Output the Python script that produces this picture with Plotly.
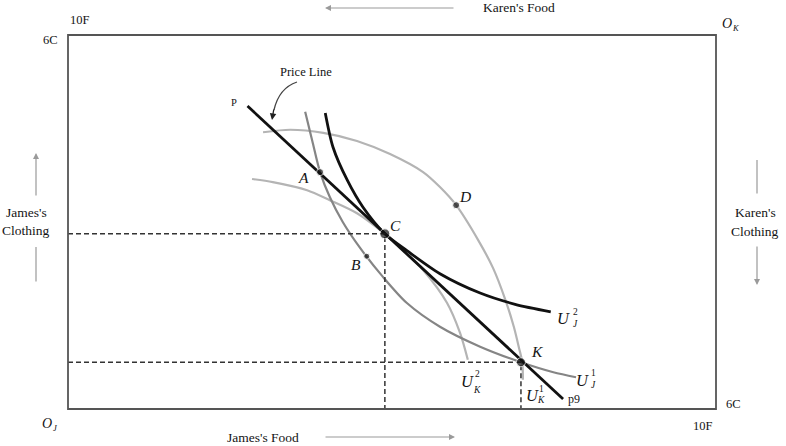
import plotly.graph_objects as go

# ---------------- data (box units: 10 food x 6 clothing) ----------------
price_x = [2.77, 7.64]
price_y = [4.86, 0.16]

uj2_x = [3.97, 4.09, 4.31, 4.55, 4.89, 5.23, 5.74, 6.36, 6.90, 7.45]
uj2_y = [4.75, 4.20, 3.67, 3.24, 2.81, 2.54, 2.17, 1.86, 1.68, 1.56]

uj1_x = [3.66, 3.77, 3.89, 4.04, 4.24, 4.51, 4.86, 5.23, 5.74, 6.36, 6.99, 7.49, 7.84]
uj1_y = [4.77, 4.30, 3.80, 3.40, 3.00, 2.58, 2.12, 1.70, 1.32, 1.00, 0.75, 0.59, 0.51]

uk2_x = [2.84, 3.16, 3.69, 4.04, 4.46, 4.89, 5.12, 5.48, 5.85, 6.05, 6.17]
uk2_y = [3.69, 3.64, 3.51, 3.35, 3.14, 2.81, 2.60, 2.23, 1.70, 1.22, 0.79]

uk1_x = [3.01, 3.43, 3.94, 4.46, 4.97, 5.48, 5.74, 5.99, 6.33, 6.56, 6.74, 6.88, 6.96, 7.01, 7.02]
uk1_y = [4.44, 4.48, 4.43, 4.30, 4.09, 3.80, 3.56, 3.27, 2.71, 2.26, 1.78, 1.32, 0.98, 0.75, 0.47]

point_names = ["A", "B", "C", "D", "K"]
point_x = [3.89, 4.61, 4.89, 5.99, 6.99]
point_y = [3.80, 2.45, 2.81, 3.27, 0.75]

X_MAX, Y_MAX = 10, 6

# ---------------- layout geometry / styles ----------------
W, H = 786, 446
ML, MR, MT, MB = 68, 70, 35, 37
PW, PH = W - ML - MR, H - MT - MB
FONT = "Liberation Serif"
TXT = "#141414"
BLACK = "#111111"
MID = "#858585"
LIGHT = "#b4b4b4"


def paper(px, py):
    return (px - ML) / PW, (H - MB - py) / PH


fig = go.Figure()


def curve(xs, ys, color, width):
    fig.add_trace(go.Scatter(x=xs, y=ys, mode="lines",
                             line=dict(color=color, width=width, shape="spline", smoothing=0.8),
                             hoverinfo="skip", showlegend=False))


curve(uk1_x, uk1_y, LIGHT, 2.2)
curve(uk2_x, uk2_y, LIGHT, 2.2)
curve(uj1_x, uj1_y, MID, 2.2)
curve(uj2_x, uj2_y, BLACK, 2.8)
fig.add_trace(go.Scatter(x=price_x, y=price_y, mode="lines",
                         line=dict(color=BLACK, width=2.8),
                         hoverinfo="skip", showlegend=False))

# dashed projection lines from C and K
for name in ("C", "K"):
    i = point_names.index(name)
    fig.add_trace(go.Scatter(x=[0, point_x[i], point_x[i]], y=[point_y[i], point_y[i], 0],
                             mode="lines", line=dict(color="#333333", width=1.5, dash="5px,3px"),
                             hoverinfo="skip", showlegend=False))

sizes = {"A": 7, "B": 6, "C": 10, "D": 7, "K": 9}
fig.add_trace(go.Scatter(x=point_x, y=point_y, mode="markers",
                         marker=dict(color=BLACK, size=[sizes[n] for n in point_names]),
                         hoverinfo="skip", showlegend=False))

ann = []
shifts = {"A": (-17, -5), "B": (-11, -8), "C": (11, 8), "D": (9, 9), "K": (16, 11)}
for n, x, y in zip(point_names, point_x, point_y):
    dx, dy = shifts[n]
    ann.append(dict(text=f"<i>{n}</i>", x=x, y=y, xref="x", yref="y", xshift=dx, yshift=dy,
                    showarrow=False, font=dict(family=FONT, size=15.5, color=TXT)))


def text(s, px, py, size=13.5, color=TXT):
    x, y = paper(px, py)
    ann.append(dict(text=s, x=x, y=y, xref="paper", yref="paper", showarrow=False,
                    xanchor="center", yanchor="middle", font=dict(family=FONT, size=size, color=color)))


def arrow(hx, hy, tx, ty, head=2, color="#9a9a9a", width=1.2):
    x, y = paper(hx, hy)
    ann.append(dict(text="", x=x, y=y, xref="paper", yref="paper", showarrow=True,
                    ax=tx - hx, ay=ty - hy, arrowhead=head, arrowsize=1, arrowwidth=width,
                    arrowcolor=color))


def ulabel(ux, uy, sup, sub, ix, ysup, ysub):
    text("<i>U</i>", ux, uy, size=16.5)
    text(sup, ix, ysup, size=9.5)
    text(f"<i>{sub}</i>", ix, ysub, size=9.5)


# corner / axis texts
text("10F", 80, 20, 12.5)
text("6C", 50, 40, 12.5)
text("<i>O</i>", 727, 23, 14)
text("<i>K</i>", 736, 28, 8.5)
text("<i>O</i>", 47, 423, 14)
text("<i>J</i>", 55, 428, 8.5)
text("10F", 703, 426, 12.5)
text("6C", 733, 404, 12.5)
text("Karen's Food", 519, 8)
arrow(325, 8, 455, 8)
text("James's Food", 263, 437)
arrow(455, 437, 324, 437)
text("James's", 26, 212)
text("Clothing", 26, 230)
arrow(36, 153, 36, 197)
arrow(36, 247, 36, 283, head=0)
text("Karen's", 755, 212)
text("Clothing", 755, 231)
arrow(757, 160, 757, 195, head=0)
arrow(757, 285, 757, 245)

# price line label and curved pointer
text("Price Line", 306, 72, 12.5)
x0, y0 = paper(297, 82)
xc, yc = paper(279, 88)
x1, y1 = paper(274, 110)
shapes = [dict(type="path", xref="paper", yref="paper",
               path=f"M {x0},{y0} Q {xc},{yc} {x1},{y1}",
               line=dict(color="#444444", width=1.3))]
arrow(272, 120, 274, 108, head=2, color="#222222", width=1.3)

text("P", 234, 102, 10.5)
text("p9", 574, 399, 12)

# indifference curve labels
ulabel(563, 318, "2", "J", 575, 312, 324)
ulabel(582, 380, "1", "J", 593, 373, 385)
ulabel(467, 381, "2", "K", 477, 374, 390)
ulabel(532, 395, "1", "K", 541, 389, 400)

# box border
shapes.append(dict(type="rect", xref="paper", yref="paper", x0=0, y0=0, x1=1, y1=1,
                   line=dict(color="#555555", width=1.8), fillcolor="rgba(0,0,0,0)"))

fig.update_layout(
    width=W, height=H,
    margin=dict(l=ML, r=MR, t=MT, b=MB, pad=0),
    paper_bgcolor="white", plot_bgcolor="white",
    xaxis=dict(range=[0, X_MAX], visible=False, fixedrange=True),
    yaxis=dict(range=[0, Y_MAX], visible=False, fixedrange=True),
    annotations=ann, shapes=shapes, showlegend=False,
)

fig.write_html("out.html")
